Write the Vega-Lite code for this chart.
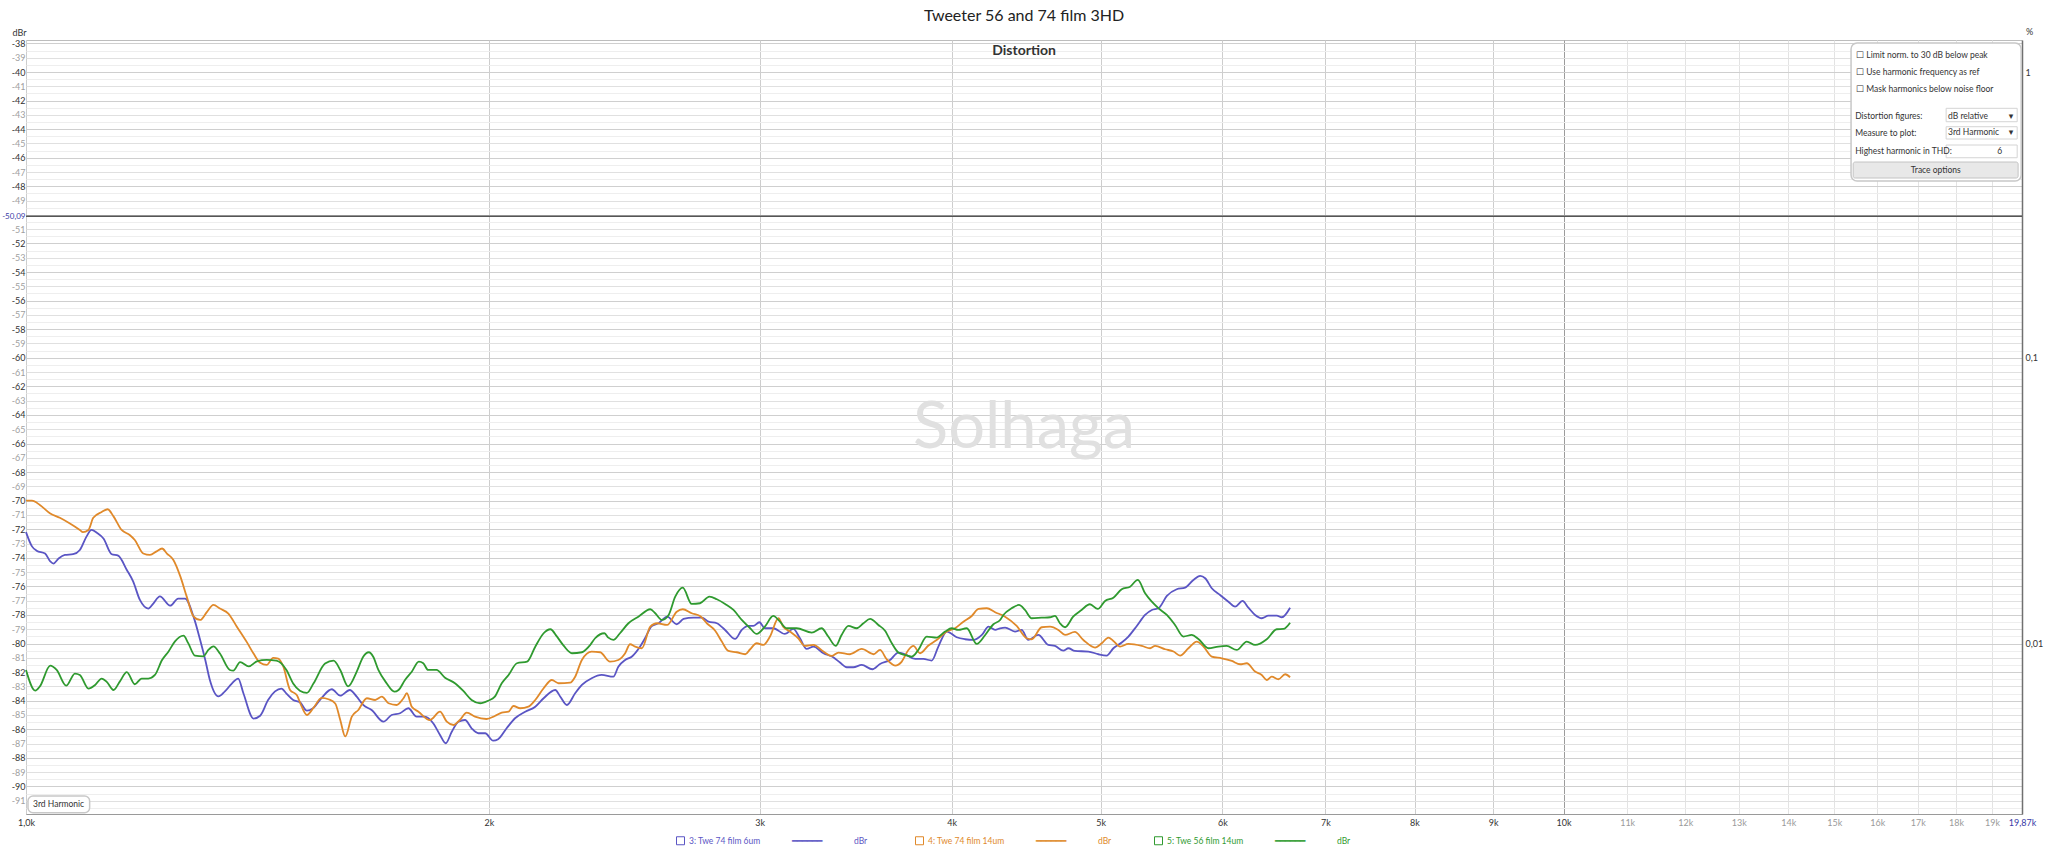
{
  "$schema": "https://vega.github.io/schema/vega-lite/v6.json",
  "width": 1996,
  "height": 774,
  "autosize": {"type": "none"},
  "padding": {"left": 26, "top": 40, "right": 26, "bottom": 35},
  "background": "white",
  "config": {
    "font": "Lato",
    "view": {"stroke": "#bdbdbd", "strokeWidth": 1},
    "axis": {"labelFont": "Lato", "titleFont": "Lato"},
    "legend": {"labelFont": "Lato"}
  },
  "title": {"text": "Tweeter 56 and 74 film 3HD", "fontSize": 16, "fontWeight": "normal", "color": "#222222", "offset": 3, "anchor": "middle"},
  "resolve": {"axis": {"y": "independent", "x": "independent"}},
  "layer": [
    {
      "data": {"values": [{}]},
      "mark": {"type": "text", "text": "Solhaga", "fontSize": 65, "color": "#e0e0e0", "baseline": "middle", "align": "center"},
      "encoding": {
        "x": {"datum": 4458, "type": "quantitative", "axis": null},
        "y": {"datum": -64.9, "type": "quantitative", "axis": null}
      }
    },
    {
      "data": {"values": [{}]},
      "mark": {"type": "rect", "fill": "white", "stroke": "#c8c8c8", "strokeWidth": 1.5, "cornerRadius": 6},
      "encoding": {
        "x": {"datum": 15382, "type": "quantitative", "axis": null},
        "x2": {"datum": 19846},
        "y": {"datum": -37.97, "type": "quantitative", "axis": null},
        "y2": {"datum": -47.63}
      }
    },
    {
      "data": {"values": [{}]},
      "mark": {"type": "rect", "fill": "white", "stroke": "#d4d4d4", "strokeWidth": 1},
      "encoding": {
        "x": {"datum": 17736, "type": "quantitative", "axis": null},
        "x2": {"datum": 19727},
        "y": {"datum": -42.54, "type": "quantitative", "axis": null},
        "y2": {"datum": -43.48}
      }
    },
    {
      "data": {"values": [{}]},
      "mark": {"type": "rect", "fill": "white", "stroke": "#d4d4d4", "strokeWidth": 1},
      "encoding": {
        "x": {"datum": 17736, "type": "quantitative", "axis": null},
        "x2": {"datum": 19727},
        "y": {"datum": -43.83, "type": "quantitative", "axis": null},
        "y2": {"datum": -44.69}
      }
    },
    {
      "data": {"values": [{}]},
      "mark": {"type": "rect", "fill": "white", "stroke": "#d4d4d4", "strokeWidth": 1},
      "encoding": {
        "x": {"datum": 17736, "type": "quantitative", "axis": null},
        "x2": {"datum": 19727},
        "y": {"datum": -45.11, "type": "quantitative", "axis": null},
        "y2": {"datum": -46.0}
      }
    },
    {
      "data": {"values": [{}]},
      "mark": {"type": "rect", "fill": "#e8e8e8", "stroke": "#c4c4c4", "strokeWidth": 1, "cornerRadius": 2},
      "encoding": {
        "x": {"datum": 15431, "type": "quantitative", "axis": null},
        "x2": {"datum": 19755},
        "y": {"datum": -46.3, "type": "quantitative", "axis": null},
        "y2": {"datum": -47.42}
      }
    },
    {
      "data": {"values": [{}]},
      "mark": {"type": "text", "text": ["☐   Limit norm. to 30 dB below peak", "☐   Use harmonic frequency as ref", "☐   Mask harmonics below noise floor"], "fontSize": 8.5, "lineHeight": 17.15, "color": "#333333", "align": "left", "baseline": "middle"},
      "encoding": {
        "x": {"datum": 15499, "type": "quantitative", "axis": null},
        "y": {"datum": -38.79, "type": "quantitative", "axis": null}
      }
    },
    {
      "data": {"values": [{}]},
      "mark": {"type": "text", "text": ["Distortion figures:", "Measure to plot:", "Highest harmonic in THD:"], "fontSize": 8.5, "lineHeight": 17.65, "color": "#333333", "align": "left", "baseline": "middle"},
      "encoding": {
        "x": {"datum": 15477, "type": "quantitative", "axis": null},
        "y": {"datum": -43.06, "type": "quantitative", "axis": null}
      }
    },
    {
      "data": {"values": [{}]},
      "mark": {"type": "text", "text": ["dB relative", "3rd Harmonic"], "fontSize": 8.5, "lineHeight": 16.6, "color": "#333333", "align": "left", "baseline": "middle"},
      "encoding": {
        "x": {"datum": 17786, "type": "quantitative", "axis": null},
        "y": {"datum": -43.06, "type": "quantitative", "axis": null}
      }
    },
    {
      "data": {"values": [{}]},
      "mark": {"type": "text", "text": ["▾", "▾"], "fontSize": 9, "lineHeight": 16.6, "color": "#333333", "align": "center", "baseline": "middle", "font": "DejaVu Sans"},
      "encoding": {
        "x": {"datum": 19548, "type": "quantitative", "axis": null},
        "y": {"datum": -43.06, "type": "quantitative", "axis": null}
      }
    },
    {
      "data": {"values": [{}]},
      "mark": {"type": "text", "text": "6", "fontSize": 8.5, "color": "#333333", "align": "right", "baseline": "middle"},
      "encoding": {
        "x": {"datum": 19286, "type": "quantitative", "axis": null},
        "y": {"datum": -45.53, "type": "quantitative", "axis": null}
      }
    },
    {
      "data": {"values": [{}]},
      "mark": {"type": "text", "text": "Trace options", "fontSize": 8.5, "color": "#333333", "align": "center", "baseline": "middle"},
      "encoding": {
        "x": {"datum": 17463, "type": "quantitative", "axis": null},
        "y": {"datum": -46.83, "type": "quantitative", "axis": null}
      }
    },
    {
      "data": {"values": [{}]},
      "mark": {"type": "rect", "fill": "white", "stroke": "#c8c8c8", "strokeWidth": 1.5, "cornerRadius": 5},
      "encoding": {
        "x": {"datum": 1003, "type": "quantitative", "axis": null},
        "x2": {"datum": 1100},
        "y": {"datum": -90.67, "type": "quantitative", "axis": null},
        "y2": {"datum": -91.84}
      }
    },
    {
      "data": {"values": [{}]},
      "mark": {"type": "text", "text": "3rd Harmonic", "fontSize": 8.5, "color": "#333333", "align": "center", "baseline": "middle"},
      "encoding": {
        "x": {"datum": 1050, "type": "quantitative", "axis": null},
        "y": {"datum": -91.25, "type": "quantitative", "axis": null}
      }
    },
    {
      "data": {"values": [{}]},
      "mark": {"type": "text", "text": "Distortion", "fontSize": 14, "fontWeight": "bold", "color": "#333333", "align": "center", "baseline": "middle"},
      "encoding": {
        "x": {"datum": 4458, "type": "quantitative", "axis": null},
        "y": {"datum": -38.53, "type": "quantitative", "axis": null}
      }
    },
    {
      "data": {"values": [
        {"s":"3: Twe 74 film 6um","f":1000,"db":-72.2},{"s":"3: Twe 74 film 6um","f":1009,"db":-73.2},{"s":"3: Twe 74 film 6um","f":1016,"db":-73.5},{"s":"3: Twe 74 film 6um","f":1029,"db":-73.7},{"s":"3: Twe 74 film 6um","f":1037,"db":-74.25},{"s":"3: Twe 74 film 6um","f":1042,"db":-74.4},{"s":"3: Twe 74 film 6um","f":1050,"db":-74.05},{"s":"3: Twe 74 film 6um","f":1060,"db":-73.8},{"s":"3: Twe 74 film 6um","f":1073,"db":-73.75},{"s":"3: Twe 74 film 6um","f":1084,"db":-73.45},{"s":"3: Twe 74 film 6um","f":1095,"db":-72.5},{"s":"3: Twe 74 film 6um","f":1103,"db":-72.05},{"s":"3: Twe 74 film 6um","f":1112,"db":-72.25},{"s":"3: Twe 74 film 6um","f":1123,"db":-72.65},{"s":"3: Twe 74 film 6um","f":1137,"db":-73.75},{"s":"3: Twe 74 film 6um","f":1148,"db":-73.85},{"s":"3: Twe 74 film 6um","f":1163,"db":-74.85},{"s":"3: Twe 74 film 6um","f":1174,"db":-75.65},{"s":"3: Twe 74 film 6um","f":1186,"db":-76.95},{"s":"3: Twe 74 film 6um","f":1201,"db":-77.55},{"s":"3: Twe 74 film 6um","f":1210,"db":-77.2},{"s":"3: Twe 74 film 6um","f":1222,"db":-76.7},{"s":"3: Twe 74 film 6um","f":1241,"db":-77.35},{"s":"3: Twe 74 film 6um","f":1256,"db":-76.85},{"s":"3: Twe 74 film 6um","f":1269,"db":-76.85},{"s":"3: Twe 74 film 6um","f":1285,"db":-78.1},{"s":"3: Twe 74 film 6um","f":1298,"db":-79.75},{"s":"3: Twe 74 film 6um","f":1308,"db":-81.15},{"s":"3: Twe 74 film 6um","f":1317,"db":-82.55},{"s":"3: Twe 74 film 6um","f":1334,"db":-83.7},{"s":"3: Twe 74 film 6um","f":1347,"db":-83.35},{"s":"3: Twe 74 film 6um","f":1361,"db":-82.8},{"s":"3: Twe 74 film 6um","f":1374,"db":-82.45},{"s":"3: Twe 74 film 6um","f":1385,"db":-83.5},{"s":"3: Twe 74 film 6um","f":1406,"db":-85.25},{"s":"3: Twe 74 film 6um","f":1420,"db":-85.05},{"s":"3: Twe 74 film 6um","f":1437,"db":-83.95},{"s":"3: Twe 74 film 6um","f":1452,"db":-83.35},{"s":"3: Twe 74 film 6um","f":1466,"db":-83.15},{"s":"3: Twe 74 film 6um","f":1477,"db":-83.5},{"s":"3: Twe 74 film 6um","f":1492,"db":-83.95},{"s":"3: Twe 74 film 6um","f":1507,"db":-84.1},{"s":"3: Twe 74 film 6um","f":1523,"db":-84.7},{"s":"3: Twe 74 film 6um","f":1538,"db":-84.5},{"s":"3: Twe 74 film 6um","f":1557,"db":-83.8},{"s":"3: Twe 74 film 6um","f":1581,"db":-83.2},{"s":"3: Twe 74 film 6um","f":1601,"db":-83.65},{"s":"3: Twe 74 film 6um","f":1624,"db":-83.25},{"s":"3: Twe 74 film 6um","f":1641,"db":-83.72},{"s":"3: Twe 74 film 6um","f":1657,"db":-84.3},{"s":"3: Twe 74 film 6um","f":1678,"db":-84.65},{"s":"3: Twe 74 film 6um","f":1708,"db":-85.47},{"s":"3: Twe 74 film 6um","f":1729,"db":-85.0},{"s":"3: Twe 74 film 6um","f":1751,"db":-84.88},{"s":"3: Twe 74 film 6um","f":1773,"db":-84.53},{"s":"3: Twe 74 film 6um","f":1795,"db":-85.12},{"s":"3: Twe 74 film 6um","f":1817,"db":-85.12},{"s":"3: Twe 74 film 6um","f":1840,"db":-85.58},{"s":"3: Twe 74 film 6um","f":1859,"db":-86.4},{"s":"3: Twe 74 film 6um","f":1875,"db":-86.98},{"s":"3: Twe 74 film 6um","f":1892,"db":-86.17},{"s":"3: Twe 74 film 6um","f":1911,"db":-85.47},{"s":"3: Twe 74 film 6um","f":1930,"db":-85.35},{"s":"3: Twe 74 film 6um","f":1949,"db":-85.93},{"s":"3: Twe 74 film 6um","f":1969,"db":-86.28},{"s":"3: Twe 74 film 6um","f":1989,"db":-86.28},{"s":"3: Twe 74 film 6um","f":2013,"db":-86.8},{"s":"3: Twe 74 film 6um","f":2028,"db":-86.7},{"s":"3: Twe 74 film 6um","f":2054,"db":-85.93},{"s":"3: Twe 74 film 6um","f":2080,"db":-85.23},{"s":"3: Twe 74 film 6um","f":2112,"db":-84.77},{"s":"3: Twe 74 film 6um","f":2144,"db":-84.42},{"s":"3: Twe 74 film 6um","f":2171,"db":-83.83},{"s":"3: Twe 74 film 6um","f":2209,"db":-83.25},{"s":"3: Twe 74 film 6um","f":2226,"db":-83.72},{"s":"3: Twe 74 film 6um","f":2248,"db":-84.3},{"s":"3: Twe 74 film 6um","f":2276,"db":-83.48},{"s":"3: Twe 74 film 6um","f":2299,"db":-82.9},{"s":"3: Twe 74 film 6um","f":2333,"db":-82.43},{"s":"3: Twe 74 film 6um","f":2368,"db":-82.2},{"s":"3: Twe 74 film 6um","f":2410,"db":-82.32},{"s":"3: Twe 74 film 6um","f":2428,"db":-81.62},{"s":"3: Twe 74 film 6um","f":2453,"db":-81.15},{"s":"3: Twe 74 film 6um","f":2477,"db":-80.92},{"s":"3: Twe 74 film 6um","f":2508,"db":-80.22},{"s":"3: Twe 74 film 6um","f":2527,"db":-79.63},{"s":"3: Twe 74 film 6um","f":2553,"db":-78.77},{"s":"3: Twe 74 film 6um","f":2579,"db":-78.58},{"s":"3: Twe 74 film 6um","f":2612,"db":-78.12},{"s":"3: Twe 74 film 6um","f":2650,"db":-78.65},{"s":"3: Twe 74 film 6um","f":2677,"db":-78.28},{"s":"3: Twe 74 film 6um","f":2717,"db":-78.19},{"s":"3: Twe 74 film 6um","f":2751,"db":-78.19},{"s":"3: Twe 74 film 6um","f":2779,"db":-78.47},{"s":"3: Twe 74 film 6um","f":2814,"db":-78.58},{"s":"3: Twe 74 film 6um","f":2849,"db":-79.05},{"s":"3: Twe 74 film 6um","f":2892,"db":-79.68},{"s":"3: Twe 74 film 6um","f":2921,"db":-79.05},{"s":"3: Twe 74 film 6um","f":2950,"db":-78.77},{"s":"3: Twe 74 film 6um","f":2972,"db":-78.77},{"s":"3: Twe 74 film 6um","f":2999,"db":-78.51},{"s":"3: Twe 74 film 6um","f":3024,"db":-78.93},{"s":"3: Twe 74 film 6um","f":3062,"db":-78.93},{"s":"3: Twe 74 film 6um","f":3116,"db":-79.33},{"s":"3: Twe 74 film 6um","f":3155,"db":-78.98},{"s":"3: Twe 74 film 6um","f":3187,"db":-79.63},{"s":"3: Twe 74 film 6um","f":3219,"db":-80.38},{"s":"3: Twe 74 film 6um","f":3252,"db":-80.21},{"s":"3: Twe 74 film 6um","f":3301,"db":-80.68},{"s":"3: Twe 74 film 6um","f":3350,"db":-80.96},{"s":"3: Twe 74 film 6um","f":3384,"db":-81.33},{"s":"3: Twe 74 film 6um","f":3418,"db":-81.66},{"s":"3: Twe 74 film 6um","f":3452,"db":-81.66},{"s":"3: Twe 74 film 6um","f":3496,"db":-81.5},{"s":"3: Twe 74 film 6um","f":3552,"db":-81.8},{"s":"3: Twe 74 film 6um","f":3593,"db":-81.43},{"s":"3: Twe 74 film 6um","f":3647,"db":-81.15},{"s":"3: Twe 74 film 6um","f":3693,"db":-80.63},{"s":"3: Twe 74 film 6um","f":3730,"db":-80.75},{"s":"3: Twe 74 film 6um","f":3787,"db":-81.08},{"s":"3: Twe 74 film 6um","f":3834,"db":-81.08},{"s":"3: Twe 74 film 6um","f":3882,"db":-81.19},{"s":"3: Twe 74 film 6um","f":3921,"db":-80.21},{"s":"3: Twe 74 film 6um","f":3971,"db":-79.16},{"s":"3: Twe 74 film 6um","f":4030,"db":-79.56},{"s":"3: Twe 74 film 6um","f":4081,"db":-79.7},{"s":"3: Twe 74 film 6um","f":4132,"db":-79.75},{"s":"3: Twe 74 film 6um","f":4185,"db":-79.4},{"s":"3: Twe 74 film 6um","f":4227,"db":-78.82},{"s":"3: Twe 74 film 6um","f":4269,"db":-79.05},{"s":"3: Twe 74 film 6um","f":4301,"db":-78.93},{"s":"3: Twe 74 film 6um","f":4333,"db":-78.88},{"s":"3: Twe 74 film 6um","f":4398,"db":-79.16},{"s":"3: Twe 74 film 6um","f":4442,"db":-79.05},{"s":"3: Twe 74 film 6um","f":4486,"db":-79.75},{"s":"3: Twe 74 film 6um","f":4554,"db":-79.4},{"s":"3: Twe 74 film 6um","f":4623,"db":-80.1},{"s":"3: Twe 74 film 6um","f":4669,"db":-80.17},{"s":"3: Twe 74 film 6um","f":4728,"db":-80.49},{"s":"3: Twe 74 film 6um","f":4764,"db":-80.33},{"s":"3: Twe 74 film 6um","f":4810,"db":-80.52},{"s":"3: Twe 74 film 6um","f":4909,"db":-80.56},{"s":"3: Twe 74 film 6um","f":4983,"db":-80.75},{"s":"3: Twe 74 film 6um","f":5045,"db":-80.84},{"s":"3: Twe 74 film 6um","f":5096,"db":-80.33},{"s":"3: Twe 74 film 6um","f":5160,"db":-79.93},{"s":"3: Twe 74 film 6um","f":5212,"db":-79.51},{"s":"3: Twe 74 film 6um","f":5278,"db":-78.77},{"s":"3: Twe 74 film 6um","f":5344,"db":-78.0},{"s":"3: Twe 74 film 6um","f":5398,"db":-77.65},{"s":"3: Twe 74 film 6um","f":5452,"db":-77.53},{"s":"3: Twe 74 film 6um","f":5521,"db":-76.67},{"s":"3: Twe 74 film 6um","f":5603,"db":-76.2},{"s":"3: Twe 74 film 6um","f":5674,"db":-76.09},{"s":"3: Twe 74 film 6um","f":5745,"db":-75.55},{"s":"3: Twe 74 film 6um","f":5803,"db":-75.27},{"s":"3: Twe 74 film 6um","f":5847,"db":-75.43},{"s":"3: Twe 74 film 6um","f":5905,"db":-76.13},{"s":"3: Twe 74 film 6um","f":5979,"db":-76.6},{"s":"3: Twe 74 film 6um","f":6054,"db":-77.07},{"s":"3: Twe 74 film 6um","f":6115,"db":-77.42},{"s":"3: Twe 74 film 6um","f":6183,"db":-77.02},{"s":"3: Twe 74 film 6um","f":6238,"db":-77.49},{"s":"3: Twe 74 film 6um","f":6301,"db":-78.0},{"s":"3: Twe 74 film 6um","f":6364,"db":-78.23},{"s":"3: Twe 74 film 6um","f":6428,"db":-78.05},{"s":"3: Twe 74 film 6um","f":6509,"db":-78.05},{"s":"3: Twe 74 film 6um","f":6558,"db":-78.16},{"s":"3: Twe 74 film 6um","f":6640,"db":-77.49},
        {"s":"4: Twe 74 film 14um","f":1000,"db":-70.0},{"s":"4: Twe 74 film 14um","f":1009,"db":-70.0},{"s":"4: Twe 74 film 14um","f":1021,"db":-70.3},{"s":"4: Twe 74 film 14um","f":1037,"db":-70.9},{"s":"4: Twe 74 film 14um","f":1052,"db":-71.2},{"s":"4: Twe 74 film 14um","f":1068,"db":-71.6},{"s":"4: Twe 74 film 14um","f":1084,"db":-72.05},{"s":"4: Twe 74 film 14um","f":1089,"db":-72.2},{"s":"4: Twe 74 film 14um","f":1098,"db":-72.05},{"s":"4: Twe 74 film 14um","f":1106,"db":-71.2},{"s":"4: Twe 74 film 14um","f":1120,"db":-70.8},{"s":"4: Twe 74 film 14um","f":1130,"db":-70.6},{"s":"4: Twe 74 film 14um","f":1140,"db":-71.1},{"s":"4: Twe 74 film 14um","f":1154,"db":-72.05},{"s":"4: Twe 74 film 14um","f":1168,"db":-72.4},{"s":"4: Twe 74 film 14um","f":1177,"db":-72.75},{"s":"4: Twe 74 film 14um","f":1192,"db":-73.7},{"s":"4: Twe 74 film 14um","f":1204,"db":-73.8},{"s":"4: Twe 74 film 14um","f":1216,"db":-73.55},{"s":"4: Twe 74 film 14um","f":1226,"db":-73.35},{"s":"4: Twe 74 film 14um","f":1235,"db":-73.7},{"s":"4: Twe 74 film 14um","f":1247,"db":-74.15},{"s":"4: Twe 74 film 14um","f":1260,"db":-75.3},{"s":"4: Twe 74 film 14um","f":1272,"db":-76.7},{"s":"4: Twe 74 film 14um","f":1285,"db":-78.1},{"s":"4: Twe 74 film 14um","f":1298,"db":-78.35},{"s":"4: Twe 74 film 14um","f":1311,"db":-77.8},{"s":"4: Twe 74 film 14um","f":1324,"db":-77.3},{"s":"4: Twe 74 film 14um","f":1337,"db":-77.55},{"s":"4: Twe 74 film 14um","f":1354,"db":-77.9},{"s":"4: Twe 74 film 14um","f":1371,"db":-78.8},{"s":"4: Twe 74 film 14um","f":1392,"db":-79.9},{"s":"4: Twe 74 film 14um","f":1406,"db":-80.7},{"s":"4: Twe 74 film 14um","f":1420,"db":-81.35},{"s":"4: Twe 74 film 14um","f":1434,"db":-81.5},{"s":"4: Twe 74 film 14um","f":1448,"db":-81.0},{"s":"4: Twe 74 film 14um","f":1459,"db":-81.05},{"s":"4: Twe 74 film 14um","f":1470,"db":-81.6},{"s":"4: Twe 74 film 14um","f":1485,"db":-83.25},{"s":"4: Twe 74 film 14um","f":1500,"db":-83.6},{"s":"4: Twe 74 film 14um","f":1511,"db":-84.4},{"s":"4: Twe 74 film 14um","f":1523,"db":-85.0},{"s":"4: Twe 74 film 14um","f":1538,"db":-84.5},{"s":"4: Twe 74 film 14um","f":1557,"db":-83.8},{"s":"4: Twe 74 film 14um","f":1573,"db":-83.9},{"s":"4: Twe 74 film 14um","f":1589,"db":-84.2},{"s":"4: Twe 74 film 14um","f":1601,"db":-85.35},{"s":"4: Twe 74 film 14um","f":1613,"db":-86.5},{"s":"4: Twe 74 film 14um","f":1629,"db":-85.12},{"s":"4: Twe 74 film 14um","f":1645,"db":-84.65},{"s":"4: Twe 74 film 14um","f":1666,"db":-83.83},{"s":"4: Twe 74 film 14um","f":1687,"db":-83.95},{"s":"4: Twe 74 film 14um","f":1704,"db":-83.72},{"s":"4: Twe 74 film 14um","f":1721,"db":-84.18},{"s":"4: Twe 74 film 14um","f":1742,"db":-84.3},{"s":"4: Twe 74 film 14um","f":1760,"db":-83.83},{"s":"4: Twe 74 film 14um","f":1769,"db":-83.48},{"s":"4: Twe 74 film 14um","f":1782,"db":-84.42},{"s":"4: Twe 74 film 14um","f":1800,"db":-84.77},{"s":"4: Twe 74 film 14um","f":1831,"db":-85.35},{"s":"4: Twe 74 film 14um","f":1859,"db":-84.77},{"s":"4: Twe 74 film 14um","f":1878,"db":-85.47},{"s":"4: Twe 74 film 14um","f":1897,"db":-85.7},{"s":"4: Twe 74 film 14um","f":1915,"db":-85.35},{"s":"4: Twe 74 film 14um","f":1935,"db":-84.84},{"s":"4: Twe 74 film 14um","f":1959,"db":-85.12},{"s":"4: Twe 74 film 14um","f":1993,"db":-85.28},{"s":"4: Twe 74 film 14um","f":2018,"db":-85.07},{"s":"4: Twe 74 film 14um","f":2039,"db":-84.84},{"s":"4: Twe 74 film 14um","f":2060,"db":-84.77},{"s":"4: Twe 74 film 14um","f":2075,"db":-84.37},{"s":"4: Twe 74 film 14um","f":2096,"db":-84.53},{"s":"4: Twe 74 film 14um","f":2122,"db":-84.42},{"s":"4: Twe 74 film 14um","f":2144,"db":-83.95},{"s":"4: Twe 74 film 14um","f":2171,"db":-83.13},{"s":"4: Twe 74 film 14um","f":2198,"db":-82.55},{"s":"4: Twe 74 film 14um","f":2220,"db":-82.78},{"s":"4: Twe 74 film 14um","f":2259,"db":-82.74},{"s":"4: Twe 74 film 14um","f":2276,"db":-82.32},{"s":"4: Twe 74 film 14um","f":2299,"db":-81.15},{"s":"4: Twe 74 film 14um","f":2333,"db":-80.57},{"s":"4: Twe 74 film 14um","f":2363,"db":-80.61},{"s":"4: Twe 74 film 14um","f":2398,"db":-81.27},{"s":"4: Twe 74 film 14um","f":2428,"db":-81.15},{"s":"4: Twe 74 film 14um","f":2453,"db":-80.68},{"s":"4: Twe 74 film 14um","f":2471,"db":-80.05},{"s":"4: Twe 74 film 14um","f":2490,"db":-80.22},{"s":"4: Twe 74 film 14um","f":2515,"db":-80.33},{"s":"4: Twe 74 film 14um","f":2547,"db":-78.82},{"s":"4: Twe 74 film 14um","f":2573,"db":-78.58},{"s":"4: Twe 74 film 14um","f":2612,"db":-78.7},{"s":"4: Twe 74 film 14um","f":2650,"db":-77.77},{"s":"4: Twe 74 film 14um","f":2674,"db":-77.6},{"s":"4: Twe 74 film 14um","f":2710,"db":-77.88},{"s":"4: Twe 74 film 14um","f":2744,"db":-78.07},{"s":"4: Twe 74 film 14um","f":2772,"db":-78.58},{"s":"4: Twe 74 film 14um","f":2807,"db":-79.1},{"s":"4: Twe 74 film 14um","f":2835,"db":-79.86},{"s":"4: Twe 74 film 14um","f":2863,"db":-80.52},{"s":"4: Twe 74 film 14um","f":2899,"db":-80.61},{"s":"4: Twe 74 film 14um","f":2936,"db":-80.75},{"s":"4: Twe 74 film 14um","f":2958,"db":-80.4},{"s":"4: Twe 74 film 14um","f":2987,"db":-79.98},{"s":"4: Twe 74 film 14um","f":3017,"db":-80.1},{"s":"4: Twe 74 film 14um","f":3047,"db":-79.51},{"s":"4: Twe 74 film 14um","f":3086,"db":-78.23},{"s":"4: Twe 74 film 14um","f":3108,"db":-78.82},{"s":"4: Twe 74 film 14um","f":3140,"db":-79.16},{"s":"4: Twe 74 film 14um","f":3179,"db":-79.63},{"s":"4: Twe 74 film 14um","f":3211,"db":-80.17},{"s":"4: Twe 74 film 14um","f":3252,"db":-80.1},{"s":"4: Twe 74 film 14um","f":3301,"db":-80.56},{"s":"4: Twe 74 film 14um","f":3342,"db":-80.87},{"s":"4: Twe 74 film 14um","f":3376,"db":-80.63},{"s":"4: Twe 74 film 14um","f":3435,"db":-80.75},{"s":"4: Twe 74 film 14um","f":3496,"db":-80.38},{"s":"4: Twe 74 film 14um","f":3558,"db":-80.75},{"s":"4: Twe 74 film 14um","f":3593,"db":-80.45},{"s":"4: Twe 74 film 14um","f":3629,"db":-81.1},{"s":"4: Twe 74 film 14um","f":3675,"db":-81.54},{"s":"4: Twe 74 film 14um","f":3712,"db":-81.26},{"s":"4: Twe 74 film 14um","f":3749,"db":-80.45},{"s":"4: Twe 74 film 14um","f":3777,"db":-80.17},{"s":"4: Twe 74 film 14um","f":3815,"db":-80.68},{"s":"4: Twe 74 film 14um","f":3863,"db":-80.14},{"s":"4: Twe 74 film 14um","f":3911,"db":-79.75},{"s":"4: Twe 74 film 14um","f":3971,"db":-79.16},{"s":"4: Twe 74 film 14um","f":4020,"db":-78.93},{"s":"4: Twe 74 film 14um","f":4071,"db":-78.47},{"s":"4: Twe 74 film 14um","f":4122,"db":-78.07},{"s":"4: Twe 74 film 14um","f":4164,"db":-77.58},{"s":"4: Twe 74 film 14um","f":4216,"db":-77.53},{"s":"4: Twe 74 film 14um","f":4269,"db":-77.81},{"s":"4: Twe 74 film 14um","f":4333,"db":-78.12},{"s":"4: Twe 74 film 14um","f":4409,"db":-78.77},{"s":"4: Twe 74 film 14um","f":4475,"db":-79.63},{"s":"4: Twe 74 film 14um","f":4509,"db":-79.7},{"s":"4: Twe 74 film 14um","f":4577,"db":-78.86},{"s":"4: Twe 74 film 14um","f":4635,"db":-78.82},{"s":"4: Twe 74 film 14um","f":4693,"db":-79.05},{"s":"4: Twe 74 film 14um","f":4740,"db":-79.4},{"s":"4: Twe 74 film 14um","f":4810,"db":-79.19},{"s":"4: Twe 74 film 14um","f":4872,"db":-79.75},{"s":"4: Twe 74 film 14um","f":4958,"db":-80.28},{"s":"4: Twe 74 film 14um","f":5008,"db":-79.98},{"s":"4: Twe 74 film 14um","f":5058,"db":-79.58},{"s":"4: Twe 74 film 14um","f":5096,"db":-79.82},{"s":"4: Twe 74 film 14um","f":5147,"db":-80.21},{"s":"4: Twe 74 film 14um","f":5212,"db":-80.03},{"s":"4: Twe 74 film 14um","f":5318,"db":-80.17},{"s":"4: Twe 74 film 14um","f":5384,"db":-80.33},{"s":"4: Twe 74 film 14um","f":5425,"db":-80.17},{"s":"4: Twe 74 film 14um","f":5507,"db":-80.4},{"s":"4: Twe 74 film 14um","f":5576,"db":-80.56},{"s":"4: Twe 74 film 14um","f":5631,"db":-80.84},{"s":"4: Twe 74 film 14um","f":5702,"db":-80.33},{"s":"4: Twe 74 film 14um","f":5774,"db":-79.86},{"s":"4: Twe 74 film 14um","f":5832,"db":-80.21},{"s":"4: Twe 74 film 14um","f":5905,"db":-80.91},{"s":"4: Twe 74 film 14um","f":5994,"db":-81.03},{"s":"4: Twe 74 film 14um","f":6085,"db":-81.22},{"s":"4: Twe 74 film 14um","f":6161,"db":-81.45},{"s":"4: Twe 74 film 14um","f":6223,"db":-81.38},{"s":"4: Twe 74 film 14um","f":6301,"db":-81.96},{"s":"4: Twe 74 film 14um","f":6364,"db":-82.2},{"s":"4: Twe 74 film 14um","f":6412,"db":-82.55},{"s":"4: Twe 74 film 14um","f":6460,"db":-82.31},{"s":"4: Twe 74 film 14um","f":6525,"db":-82.5},{"s":"4: Twe 74 film 14um","f":6591,"db":-82.15},{"s":"4: Twe 74 film 14um","f":6640,"db":-82.36},
        {"s":"5: Twe 56 film 14um","f":1000,"db":-81.85},{"s":"5: Twe 56 film 14um","f":1014,"db":-83.3},{"s":"5: Twe 56 film 14um","f":1021,"db":-83.0},{"s":"5: Twe 56 film 14um","f":1037,"db":-81.55},{"s":"5: Twe 56 film 14um","f":1047,"db":-81.85},{"s":"5: Twe 56 film 14um","f":1062,"db":-82.95},{"s":"5: Twe 56 film 14um","f":1076,"db":-82.1},{"s":"5: Twe 56 film 14um","f":1084,"db":-82.2},{"s":"5: Twe 56 film 14um","f":1098,"db":-83.15},{"s":"5: Twe 56 film 14um","f":1109,"db":-82.9},{"s":"5: Twe 56 film 14um","f":1120,"db":-82.45},{"s":"5: Twe 56 film 14um","f":1129,"db":-82.7},{"s":"5: Twe 56 film 14um","f":1140,"db":-83.25},{"s":"5: Twe 56 film 14um","f":1151,"db":-82.65},{"s":"5: Twe 56 film 14um","f":1163,"db":-82.0},{"s":"5: Twe 56 film 14um","f":1177,"db":-82.85},{"s":"5: Twe 56 film 14um","f":1189,"db":-82.45},{"s":"5: Twe 56 film 14um","f":1201,"db":-82.45},{"s":"5: Twe 56 film 14um","f":1213,"db":-82.2},{"s":"5: Twe 56 film 14um","f":1226,"db":-81.15},{"s":"5: Twe 56 film 14um","f":1238,"db":-80.55},{"s":"5: Twe 56 film 14um","f":1250,"db":-79.85},{"s":"5: Twe 56 film 14um","f":1266,"db":-79.45},{"s":"5: Twe 56 film 14um","f":1275,"db":-79.97},{"s":"5: Twe 56 film 14um","f":1288,"db":-80.85},{"s":"5: Twe 56 film 14um","f":1304,"db":-80.9},{"s":"5: Twe 56 film 14um","f":1314,"db":-80.45},{"s":"5: Twe 56 film 14um","f":1324,"db":-80.2},{"s":"5: Twe 56 film 14um","f":1337,"db":-80.7},{"s":"5: Twe 56 film 14um","f":1357,"db":-81.85},{"s":"5: Twe 56 film 14um","f":1364,"db":-81.9},{"s":"5: Twe 56 film 14um","f":1378,"db":-81.3},{"s":"5: Twe 56 film 14um","f":1396,"db":-81.6},{"s":"5: Twe 56 film 14um","f":1413,"db":-81.25},{"s":"5: Twe 56 film 14um","f":1434,"db":-81.15},{"s":"5: Twe 56 film 14um","f":1455,"db":-81.2},{"s":"5: Twe 56 film 14um","f":1477,"db":-81.85},{"s":"5: Twe 56 film 14um","f":1492,"db":-82.8},{"s":"5: Twe 56 film 14um","f":1507,"db":-83.3},{"s":"5: Twe 56 film 14um","f":1523,"db":-83.45},{"s":"5: Twe 56 film 14um","f":1538,"db":-82.8},{"s":"5: Twe 56 film 14um","f":1565,"db":-81.4},{"s":"5: Twe 56 film 14um","f":1585,"db":-81.2},{"s":"5: Twe 56 film 14um","f":1601,"db":-81.85},{"s":"5: Twe 56 film 14um","f":1620,"db":-83.0},{"s":"5: Twe 56 film 14um","f":1641,"db":-81.97},{"s":"5: Twe 56 film 14um","f":1657,"db":-80.92},{"s":"5: Twe 56 film 14um","f":1671,"db":-80.61},{"s":"5: Twe 56 film 14um","f":1682,"db":-80.92},{"s":"5: Twe 56 film 14um","f":1695,"db":-81.85},{"s":"5: Twe 56 film 14um","f":1716,"db":-82.78},{"s":"5: Twe 56 film 14um","f":1736,"db":-83.37},{"s":"5: Twe 56 film 14um","f":1747,"db":-83.25},{"s":"5: Twe 56 film 14um","f":1764,"db":-82.55},{"s":"5: Twe 56 film 14um","f":1782,"db":-81.97},{"s":"5: Twe 56 film 14um","f":1801,"db":-81.27},{"s":"5: Twe 56 film 14um","f":1813,"db":-81.38},{"s":"5: Twe 56 film 14um","f":1826,"db":-81.85},{"s":"5: Twe 56 film 14um","f":1849,"db":-81.85},{"s":"5: Twe 56 film 14um","f":1873,"db":-82.39},{"s":"5: Twe 56 film 14um","f":1901,"db":-82.78},{"s":"5: Twe 56 film 14um","f":1925,"db":-83.32},{"s":"5: Twe 56 film 14um","f":1949,"db":-83.95},{"s":"5: Twe 56 film 14um","f":1974,"db":-84.18},{"s":"5: Twe 56 film 14um","f":1998,"db":-84.0},{"s":"5: Twe 56 film 14um","f":2018,"db":-83.72},{"s":"5: Twe 56 film 14um","f":2039,"db":-82.78},{"s":"5: Twe 56 film 14um","f":2060,"db":-82.2},{"s":"5: Twe 56 film 14um","f":2086,"db":-81.38},{"s":"5: Twe 56 film 14um","f":2118,"db":-81.27},{"s":"5: Twe 56 film 14um","f":2144,"db":-80.22},{"s":"5: Twe 56 film 14um","f":2171,"db":-79.28},{"s":"5: Twe 56 film 14um","f":2193,"db":-79.0},{"s":"5: Twe 56 film 14um","f":2215,"db":-79.52},{"s":"5: Twe 56 film 14um","f":2237,"db":-80.15},{"s":"5: Twe 56 film 14um","f":2265,"db":-80.68},{"s":"5: Twe 56 film 14um","f":2299,"db":-80.61},{"s":"5: Twe 56 film 14um","f":2328,"db":-80.1},{"s":"5: Twe 56 film 14um","f":2345,"db":-79.63},{"s":"5: Twe 56 film 14um","f":2378,"db":-79.28},{"s":"5: Twe 56 film 14um","f":2392,"db":-79.59},{"s":"5: Twe 56 film 14um","f":2410,"db":-79.75},{"s":"5: Twe 56 film 14um","f":2434,"db":-79.28},{"s":"5: Twe 56 film 14um","f":2465,"db":-78.58},{"s":"5: Twe 56 film 14um","f":2502,"db":-78.12},{"s":"5: Twe 56 film 14um","f":2547,"db":-77.6},{"s":"5: Twe 56 film 14um","f":2566,"db":-77.88},{"s":"5: Twe 56 film 14um","f":2592,"db":-78.35},{"s":"5: Twe 56 film 14um","f":2618,"db":-78.0},{"s":"5: Twe 56 film 14um","f":2644,"db":-76.72},{"s":"5: Twe 56 film 14um","f":2674,"db":-76.09},{"s":"5: Twe 56 film 14um","f":2710,"db":-77.23},{"s":"5: Twe 56 film 14um","f":2744,"db":-77.18},{"s":"5: Twe 56 film 14um","f":2783,"db":-76.72},{"s":"5: Twe 56 film 14um","f":2814,"db":-76.9},{"s":"5: Twe 56 film 14um","f":2849,"db":-77.23},{"s":"5: Twe 56 film 14um","f":2885,"db":-77.65},{"s":"5: Twe 56 film 14um","f":2921,"db":-78.35},{"s":"5: Twe 56 film 14um","f":2958,"db":-78.93},{"s":"5: Twe 56 film 14um","f":2987,"db":-79.33},{"s":"5: Twe 56 film 14um","f":3024,"db":-78.82},{"s":"5: Twe 56 film 14um","f":3062,"db":-78.07},{"s":"5: Twe 56 film 14um","f":3093,"db":-78.47},{"s":"5: Twe 56 film 14um","f":3124,"db":-78.93},{"s":"5: Twe 56 film 14um","f":3171,"db":-78.93},{"s":"5: Twe 56 film 14um","f":3244,"db":-79.23},{"s":"5: Twe 56 film 14um","f":3292,"db":-78.93},{"s":"5: Twe 56 film 14um","f":3325,"db":-79.51},{"s":"5: Twe 56 film 14um","f":3362,"db":-80.17},{"s":"5: Twe 56 film 14um","f":3392,"db":-79.4},{"s":"5: Twe 56 film 14um","f":3427,"db":-78.77},{"s":"5: Twe 56 film 14um","f":3470,"db":-78.93},{"s":"5: Twe 56 film 14um","f":3505,"db":-78.58},{"s":"5: Twe 56 film 14um","f":3540,"db":-78.28},{"s":"5: Twe 56 film 14um","f":3584,"db":-78.7},{"s":"5: Twe 56 film 14um","f":3620,"db":-79.1},{"s":"5: Twe 56 film 14um","f":3657,"db":-79.98},{"s":"5: Twe 56 film 14um","f":3693,"db":-80.63},{"s":"5: Twe 56 film 14um","f":3730,"db":-80.8},{"s":"5: Twe 56 film 14um","f":3768,"db":-80.91},{"s":"5: Twe 56 film 14um","f":3805,"db":-80.45},{"s":"5: Twe 56 film 14um","f":3853,"db":-79.51},{"s":"5: Twe 56 film 14um","f":3911,"db":-79.58},{"s":"5: Twe 56 film 14um","f":3961,"db":-79.16},{"s":"5: Twe 56 film 14um","f":4000,"db":-78.93},{"s":"5: Twe 56 film 14um","f":4040,"db":-79.05},{"s":"5: Twe 56 film 14um","f":4091,"db":-78.93},{"s":"5: Twe 56 film 14um","f":4153,"db":-80.03},{"s":"5: Twe 56 film 14um","f":4206,"db":-79.4},{"s":"5: Twe 56 film 14um","f":4258,"db":-78.65},{"s":"5: Twe 56 film 14um","f":4301,"db":-78.35},{"s":"5: Twe 56 film 14um","f":4322,"db":-78.0},{"s":"5: Twe 56 film 14um","f":4376,"db":-77.53},{"s":"5: Twe 56 film 14um","f":4424,"db":-77.3},{"s":"5: Twe 56 film 14um","f":4464,"db":-77.65},{"s":"5: Twe 56 film 14um","f":4509,"db":-78.23},{"s":"5: Twe 56 film 14um","f":4577,"db":-78.19},{"s":"5: Twe 56 film 14um","f":4635,"db":-78.16},{"s":"5: Twe 56 film 14um","f":4669,"db":-78.07},{"s":"5: Twe 56 film 14um","f":4704,"db":-78.58},{"s":"5: Twe 56 film 14um","f":4740,"db":-78.86},{"s":"5: Twe 56 film 14um","f":4798,"db":-78.12},{"s":"5: Twe 56 film 14um","f":4859,"db":-77.65},{"s":"5: Twe 56 film 14um","f":4920,"db":-77.25},{"s":"5: Twe 56 film 14um","f":4978,"db":-77.58},{"s":"5: Twe 56 film 14um","f":5033,"db":-77.02},{"s":"5: Twe 56 film 14um","f":5096,"db":-76.79},{"s":"5: Twe 56 film 14um","f":5160,"db":-76.2},{"s":"5: Twe 56 film 14um","f":5225,"db":-76.02},{"s":"5: Twe 56 film 14um","f":5286,"db":-75.55},{"s":"5: Twe 56 film 14um","f":5344,"db":-76.48},{"s":"5: Twe 56 film 14um","f":5398,"db":-77.07},{"s":"5: Twe 56 film 14um","f":5452,"db":-77.53},{"s":"5: Twe 56 film 14um","f":5521,"db":-78.0},{"s":"5: Twe 56 film 14um","f":5589,"db":-78.7},{"s":"5: Twe 56 film 14um","f":5660,"db":-79.51},{"s":"5: Twe 56 film 14um","f":5731,"db":-79.4},{"s":"5: Twe 56 film 14um","f":5788,"db":-79.68},{"s":"5: Twe 56 film 14um","f":5875,"db":-80.33},{"s":"5: Twe 56 film 14um","f":5964,"db":-80.21},{"s":"5: Twe 56 film 14um","f":6039,"db":-80.17},{"s":"5: Twe 56 film 14um","f":6130,"db":-80.45},{"s":"5: Twe 56 film 14um","f":6223,"db":-79.86},{"s":"5: Twe 56 film 14um","f":6301,"db":-80.1},{"s":"5: Twe 56 film 14um","f":6412,"db":-79.7},{"s":"5: Twe 56 film 14um","f":6509,"db":-79.0},{"s":"5: Twe 56 film 14um","f":6574,"db":-78.98},{"s":"5: Twe 56 film 14um","f":6640,"db":-78.54}
      ]},
      "mark": {"type": "line", "strokeWidth": 1.8, "interpolate": "monotone"},
      "encoding": {
        "x": {
          "field": "f", "type": "quantitative",
          "scale": {"type": "log", "domain": [1000, 19870], "nice": false},
          "axis": {
            "title": null,
            "values": [1000, 2000, 3000, 4000, 5000, 6000, 7000, 8000, 9000, 10000, 11000, 12000, 13000, 14000, 15000, 16000, 17000, 18000, 19000, 19870],
            "labelExpr": "datum.value == 1000 ? '1,0k' : datum.value == 19870 ? '19,87k' : (datum.value / 1000) + 'k'",
            "labelColor": {"expr": "datum.value == 19870 ? '#3a3aa6' : datum.value <= 10000 ? '#333333' : '#9a9a9a'"},
            "labelFontSize": 9,
            "labelPadding": 4,
            "labelOverlap": false,
            "labelFlush": false,
            "labelBound": false,
            "ticks": false,
            "domain": true,
            "domainColor": "#9a9a9a",
            "grid": true,
            "gridColor": {"expr": "datum.value == 10000 ? '#9c9c9c' : datum.value < 10000 ? '#cdcdcd' : '#e3e3e3'"},
            "gridWidth": 1
          }
        },
        "y": {
          "field": "db", "type": "quantitative",
          "scale": {"domain": [-91.93, -37.76], "nice": false, "zero": false},
          "axis": {
            "orient": "left",
            "title": "dBr",
            "titleAngle": 0,
            "titleX": -7,
            "titleY": -5,
            "titleAlign": "center",
            "titleBaseline": "alphabetic",
            "titleFontSize": 9,
            "titleFontWeight": "normal",
            "titleColor": "#333333",
            "values": [-91.5,-91,-90.5,-90,-89.5,-89,-88.5,-88,-87.5,-87,-86.5,-86,-85.5,-85,-84.5,-84,-83.5,-83,-82.5,-82,-81.5,-81,-80.5,-80,-79.5,-79,-78.5,-78,-77.5,-77,-76.5,-76,-75.5,-75,-74.5,-74,-73.5,-73,-72.5,-72,-71.5,-71,-70.5,-70,-69.5,-69,-68.5,-68,-67.5,-67,-66.5,-66,-65.5,-65,-64.5,-64,-63.5,-63,-62.5,-62,-61.5,-61,-60.5,-60,-59.5,-59,-58.5,-58,-57.5,-57,-56.5,-56,-55.5,-55,-54.5,-54,-53.5,-53,-52.5,-52,-51.5,-51,-50.5,-50.09,-50,-49.5,-49,-48.5,-48,-47.5,-47,-46.5,-46,-45.5,-45,-44.5,-44,-43.5,-43,-42.5,-42,-41.5,-41,-40.5,-40,-39.5,-39,-38.5,-38],
            "labelExpr": "datum.value == -50.09 ? '-50,09' : ((datum.value % 1 == 0 && datum.value != -50) ? ('' + datum.value) : '')",
            "labelColor": {"expr": "datum.value == -50.09 ? '#3a3aa6' : (datum.value % 2 == 0 ? '#333333' : '#a0a0a0')"},
            "labelFontSize": {"expr": "datum.value == -50.09 ? 8 : 9"},
            "labelPadding": 1,
            "labelOverlap": false,
            "labelBound": false,
            "labelFlush": false,
            "ticks": false,
            "domain": false,
            "grid": true,
            "gridColor": {"expr": "datum.value % 1 != 0 ? '#eeeeee' : (datum.value % 2 == 0 ? '#cfcfcf' : '#e0e0e0')"},
            "gridWidth": 1
          }
        },
        "color": {
          "field": "s", "type": "nominal",
          "scale": {"domain": ["3: Twe 74 film 6um", "4: Twe 74 film 14um", "5: Twe 56 film 14um"], "range": ["#5a55c4", "#e0892a", "#2f9a2f"]},
          "legend": {
            "orient": "none",
            "legendX": 650,
            "legendY": 796,
            "direction": "horizontal",
            "title": null,
            "symbolType": "square",
            "symbolSize": 64,
            "symbolStrokeWidth": 1,
            "symbolFillColor": "white",
            "labelFontSize": 8.5,
            "labelLimit": 0,
            "labelOffset": 4,
            "columnPadding": 40,
            "gridAlign": "all",
            "labelColor": {"expr": "datum.value == '3: Twe 74 film 6um' ? '#5a55c4' : datum.value == '4: Twe 74 film 14um' ? '#e0892a' : '#2f9a2f'"},
            "labelExpr": "datum.label + '\u2003\u2003\u2003\u2003\u2003━━━━━━\u2003\u2003\u2003\u2003\u2003dBr'"
          }
        }
      }
    },
    {
      "data": {"values": [{}]},
      "mark": {"type": "rule", "color": "#555555", "strokeWidth": 1.6},
      "encoding": {
        "y": {
          "datum": -50.09, "type": "quantitative",
          "axis": {
            "orient": "right",
            "values": [-40, -60, -80],
            "labelExpr": "datum.value == -40 ? '1' : datum.value == -60 ? '0,1' : '0,01'",
            "grid": false,
            "ticks": false,
            "domain": true,
            "domainColor": "#707070",
            "domainWidth": 1.5,
            "labelFontSize": 9,
            "labelColor": "#333333",
            "labelPadding": 3,
            "labelAlign": "left",
            "title": "%",
            "titleAngle": 0,
            "titleX": 7,
            "titleY": -6,
            "titleAlign": "center",
            "titleBaseline": "alphabetic",
            "titleFontSize": 9,
            "titleFontWeight": "normal",
            "titleColor": "#333333"
          }
        }
      }
    }
  ]
}
